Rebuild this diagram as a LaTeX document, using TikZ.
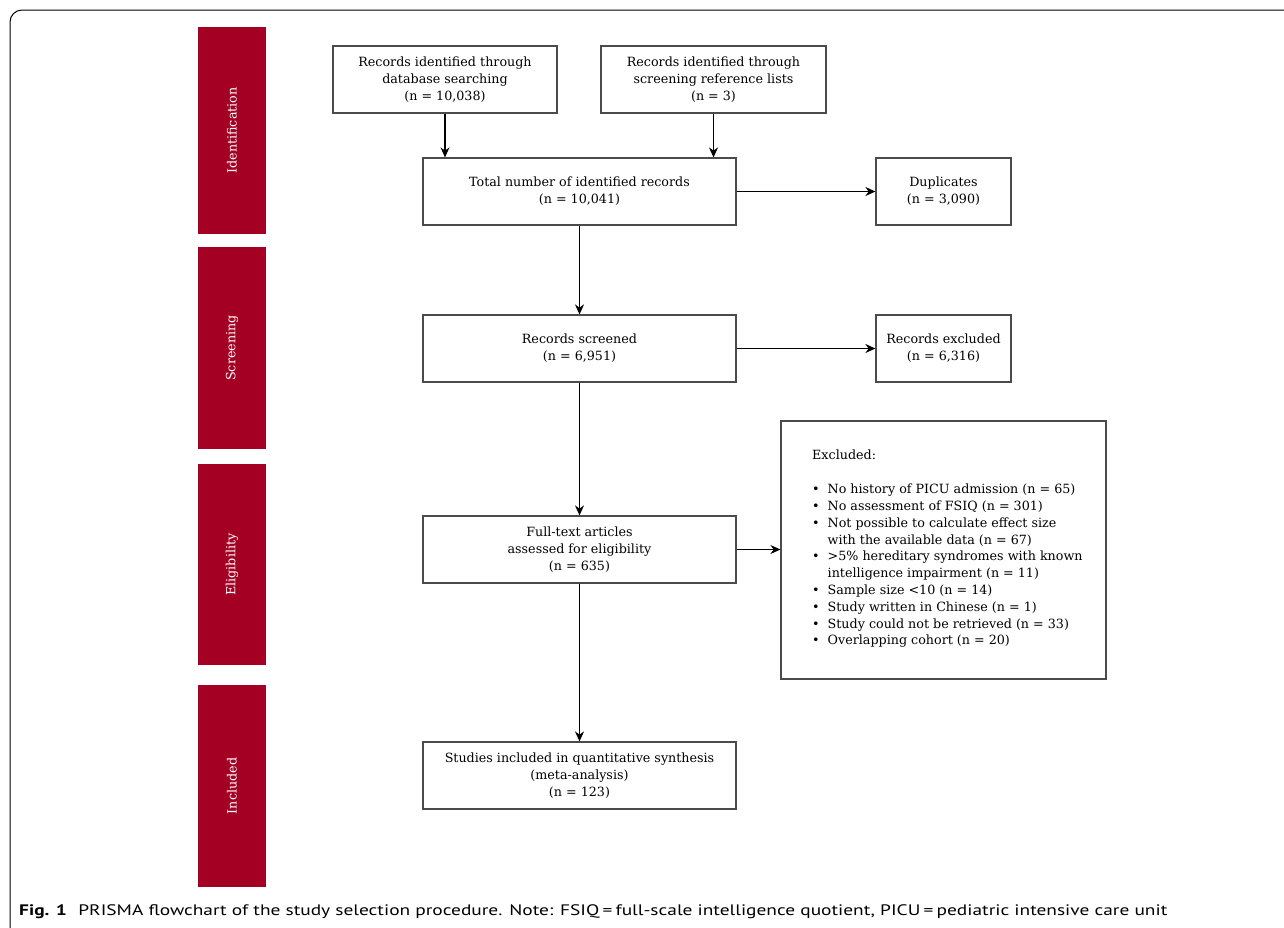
\documentclass[tikz,border=0pt]{standalone}
\usepackage{fontspec}
\setmainfont{DejaVu Serif}
\newfontfamily\capfont{PT Sans}
\usetikzlibrary{arrows.meta}
\definecolor{barred}{RGB}{163,0,36}
\definecolor{boxline}{RGB}{75,75,75}
\begin{document}
\begin{tikzpicture}[x=1pt,y=-1pt,
  flowbox/.style={draw=boxline, line width=1.2pt, inner sep=0pt, align=center,
    font=\fontsize{12.7}{17}\selectfont},
  phasebar/.style={fill=barred, draw=none, minimum width=68pt, inner sep=0pt},
  phasetext/.style={rotate=90, text=white, font=\fontsize{12.7}{15}\selectfont},
  flow/.style={line width=1.1pt, -{Stealth[length=10pt,width=9pt]}}]
\useasboundingbox (0,0) rectangle (1284,927);
\clip (0,0) rectangle (1284,927);
\fill[white] (0,0) rectangle (1284,927);
% frame
\draw[line width=1pt, rounded corners=12pt] (10,960) -- (10,10) -- (1320,10);
% phase bars
\node[phasebar, minimum height=207pt] (pb1) at (232,130.5) {};
\node[phasetext] (pt1) at (pb1.center) {Identification};
\node[phasebar, minimum height=202pt] (pb2) at (232,348) {};
\node[phasetext] (pt2) at (pb2.center) {Screening};
\node[phasebar, minimum height=201pt] (pb3) at (232,564.5) {};
\node[phasetext] (pt3) at (pb3.center) {Eligibility};
\node[phasebar, minimum height=202pt] (pb4) at (232,786) {};
\node[phasetext] (pt4) at (pb4.center) {Included};
% boxes
\node[flowbox, minimum width=224pt, minimum height=67pt] (db) at (445,79.5)
  {Records identified through\\database searching\\(n = 10,038)};
\node[flowbox, minimum width=225pt, minimum height=67pt] (ref) at (713.5,79.5)
  {Records identified through\\screening reference lists\\(n = 3)};
\node[flowbox, minimum width=313pt, minimum height=67pt] (tot) at (579.5,191.5)
  {Total number of identified records\\(n = 10,041)};
\node[flowbox, minimum width=135pt, minimum height=67pt] (dup) at (943.5,191.5)
  {Duplicates\\(n = 3,090)};
\node[flowbox, minimum width=313pt, minimum height=67pt] (scr) at (579.5,348.5)
  {Records screened\\(n = 6,951)};
\node[flowbox, minimum width=135pt, minimum height=67pt] (rex) at (943.5,348.5)
  {Records excluded\\(n = 6,316)};
\node[flowbox, minimum width=313pt, minimum height=67pt] (ft) at (579.5,549.5)
  {Full-text articles\\assessed for eligibility\\(n = 635)};
\node[flowbox, minimum width=325pt, minimum height=258pt] (exc) at (943.5,550) {};
\node[anchor=north west, inner sep=0pt, align=left,
  font=\fontsize{12.7}{16.8}\selectfont] (exctext) at (812,450)
  {Excluded:\\[20.8pt]
   \begin{tabular}{@{}l@{\hspace{8pt}}l@{}}
   \textbullet & No history of PICU admission (n = 65)\\
   \textbullet & No assessment of FSIQ (n = 301)\\
   \textbullet & Not possible to calculate effect size\\
               & with the available data (n = 67)\\
   \textbullet & >5\% hereditary syndromes with known\\
               & intelligence impairment (n = 11)\\
   \textbullet & Sample size <10 (n = 14)\\
   \textbullet & Study written in Chinese (n = 1)\\
   \textbullet & Study could not be retrieved (n = 33)\\
   \textbullet & Overlapping cohort (n = 20)
   \end{tabular}};
\node[flowbox, minimum width=313pt, minimum height=67pt] (inc) at (579.5,775.5)
  {Studies included in quantitative synthesis\\(meta-analysis)\\(n = 123)};
% connectors
\draw[flow] (db.south) -- (db.south |- tot.north);
\draw[flow] (ref.south) -- (ref.south |- tot.north);
\draw[flow] (tot.east) -- (dup.west);
\draw[flow] (tot.south) -- (scr.north);
\draw[flow] (scr.east) -- (rex.west);
\draw[flow] (scr.south) -- (ft.north);
\draw[flow] (ft.east) -- (ft.east -| exc.west);
\draw[flow] (ft.south) -- (inc.north);
% caption
\node[anchor=base west, inner sep=0pt, font=\capfont\fontsize{15.2}{18}\selectfont] (cap) at (19,915)
  {\scalebox{1.275}[1]{\textbf{Fig. 1}\hspace{9pt}PRISMA flowchart of the study selection procedure. Note: FSIQ\,=\,full-scale intelligence quotient, PICU\,=\,pediatric intensive care unit}};
\end{tikzpicture}
\end{document}
